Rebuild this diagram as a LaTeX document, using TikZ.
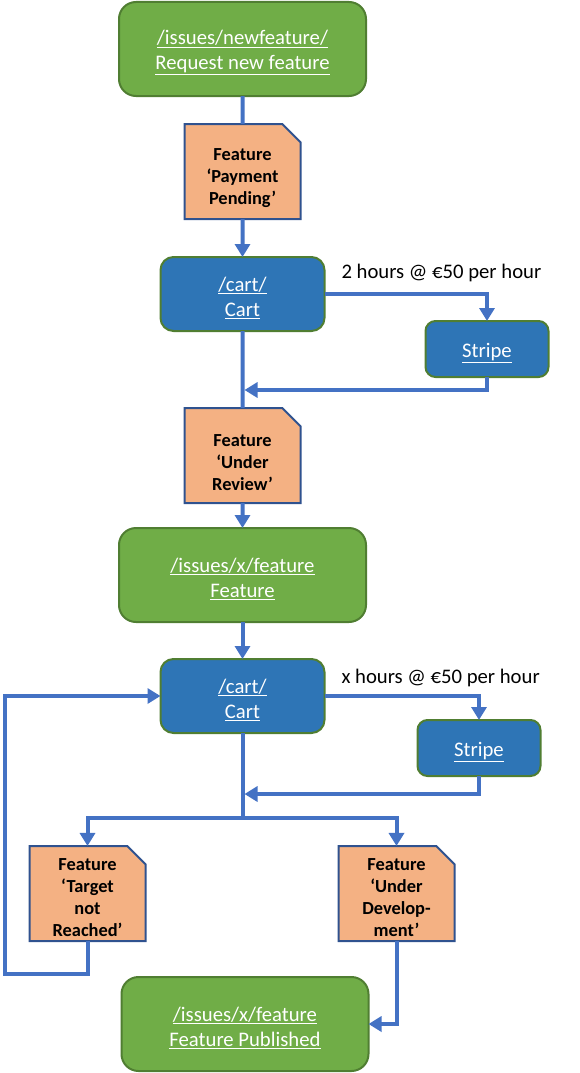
\documentclass[tikz,border=0pt]{standalone}
\usepackage{fontspec}
\setmainfont{Carlito}
\usepackage{tikz}
\usetikzlibrary{positioning, arrows.meta, shapes.misc}
\usepackage{xcolor}
\definecolor{ms-green}{HTML}{70AD47}
\definecolor{ms-green-dark}{HTML}{507E32}
\definecolor{ms-blue}{HTML}{2E75B6}
\definecolor{ms-line}{HTML}{4472C4}
\definecolor{ms-orange}{HTML}{F4B183}
\definecolor{ms-navy}{HTML}{2F528F}
\newcommand{\lnk}[1]{\underline{#1}}
% taller first line, so the text sits a little lower in its box
\newcommand{\boxgap}{\rule{0pt}{21.5pt}}
\newcommand{\notegap}[1][25.5pt]{\rule{0pt}{#1}}

\begin{document}
\begin{tikzpicture}[x=1pt, y=-1pt, outer sep=0pt,
	every node/.style={font=\fontsize{20.7}{25}\selectfont},
	pagebox/.style={draw=ms-green-dark, line width=2pt, fill=ms-green, rounded corners=17pt, text=white, minimum width=247pt, minimum height=94pt, align=center},
	cartbox/.style={draw=ms-green-dark, line width=2pt, fill=ms-blue, rounded corners=13pt, text=white, minimum width=164pt, minimum height=74pt, align=center},
	paybox/.style={cartbox, rounded corners=10pt, minimum width=123pt, minimum height=56pt},
	status/.style={chamfered rectangle, chamfered rectangle corners=north east, chamfered rectangle xsep=15pt, draw=ms-navy, line width=2pt, fill=ms-orange, minimum width=116pt, minimum height=95pt, inner xsep=2pt, inner ysep=0pt, align=center, font=\fontsize{18.4}{22}\selectfont\bfseries},
	flow/.style={draw=ms-line, line width=4pt},
	>={Triangle[length=13pt, width=15pt]}]
	\useasboundingbox (0,0) rectangle (580,1073);
	\node[pagebox] (green1) at (242.5,49) {\boxgap\lnk{/issues/newfeature/}\\\lnk{Request new feature}};
	\node[status, below=28pt of green1] (note1) {\notegap Feature\\‘Payment\\Pending’};
	\node[cartbox, below=38pt of note1] (cart1) {\boxgap\lnk{/cart/}\\\lnk{Cart}};
	\node[paybox, right=101pt of cart1, yshift=-55pt] (stripe1) {\boxgap\lnk{Stripe}};
	\node[inner sep=0pt, right=17pt of cart1.east, anchor=west, yshift=21pt] (rate1) {2 hours @ €50 per hour};
	\node[status, below=77pt of cart1] (note2) {\notegap Feature\\‘Under\\Review’};
	\node[pagebox, below=25pt of note2] (green2) {\boxgap\lnk{/issues/x/feature}\\\lnk{Feature}};
	\node[cartbox, below=37pt of green2] (cart2) {\boxgap\lnk{/cart/}\\\lnk{Cart}};
	\node[paybox, right=93pt of cart2, yshift=-52pt] (stripe2) {\boxgap\lnk{Stripe}};
	\node[inner sep=0pt, right=17pt of cart2.east, anchor=west, yshift=18pt] (rate2) {x hours @ €50 per hour};
	\node[status, below=113pt of cart2, xshift=-155pt] (note3) {\notegap[21pt]Feature\\‘Target\\not\\Reached’};
	\node[status, below=113pt of cart2, xshift=154pt] (note4) {\notegap[21pt]Feature\\‘Under\\Develop-\\ment’};
	\node[pagebox, below=36pt of note3, xshift=157.5pt] (green3) {\boxgap\lnk{/issues/x/feature}\\\lnk{Feature Published}};
	% helper points for the joins
	\path (stripe1.south -| cart1.south) ++(0,13) coordinate (merge1);
	\path (stripe2.south -| cart2.south) ++(0,18) coordinate (merge2);
	\path (cart2.south) ++(0,85) coordinate (split);
	\path (note3.south) ++(-83,33) coordinate (loop);
	% connectors
	\draw[flow] (green1) -- (note1);
	\draw[flow, ->] (note1) -- (cart1);
	\draw[flow, ->] (cart1) -| (stripe1);
	\draw[flow, ->, shorten >=2pt] (stripe1) |- (merge1);
	\draw[flow] (cart1) -- (note2);
	\draw[flow, ->] (note2) -- (green2);
	\draw[flow, ->] (green2) -- (cart2);
	\draw[flow, ->] (cart2) -| (stripe2);
	\draw[flow, ->, shorten >=2pt] (stripe2) |- (merge2);
	\draw[flow] (cart2) -- (split);
	\draw[flow, ->] (split) -| (note3);
	\draw[flow, ->] (split) -| (note4);
	\draw[flow, ->] (note3) |- (loop) |- (cart2);
	\draw[flow, ->] (note4) |- (green3);
\end{tikzpicture}
\end{document}
